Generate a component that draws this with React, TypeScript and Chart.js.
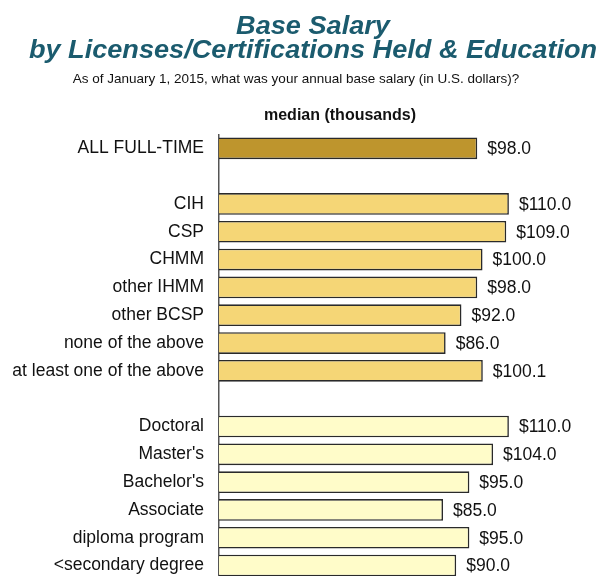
import React, { useEffect, useRef } from "react";
import { Chart, registerables } from "chart.js";

Chart.register(...registerables);

const titleLine1 = "Base Salary";
const titleLine2 = "by Licenses/Certifications Held & Education";
const subtitleText = "As of January 1, 2015, what was your annual base salary (in U.S. dollars)?";
const measureText = "median (thousands)";

const overallLabels = ["ALL FULL-TIME"];
const overallValues = [98.0];

const certLabels = ["CIH", "CSP", "CHMM", "other IHMM", "other BCSP", "none of the above", "at least one of the above"];
const certValues = [110.0, 109.0, 100.0, 98.0, 92.0, 86.0, 100.1];

const eduLabels = ["Doctoral", "Master's", "Bachelor's", "Associate", "diploma program", "<secondary degree"];
const eduValues = [110.0, 104.0, 95.0, 85.0, 95.0, 90.0];

const overallColor = "#BE952D";
const certColor = "#F5D676";
const eduColor = "#FFFCC9";
const titleColor = "#1B5B6E";
const FONT = "'Liberation Sans', Arial, sans-serif";

const labels = [...overallLabels, "", ...certLabels, "", ...eduLabels];
const values: (number | null)[] = [...overallValues, null, ...certValues, null, ...eduValues];
const colors = [
  ...overallLabels.map(() => overallColor),
  "rgba(0,0,0,0)",
  ...certLabels.map(() => certColor),
  "rgba(0,0,0,0)",
  ...eduLabels.map(() => eduColor),
];

const textPlugin = {
  id: "textPlugin",
  afterDraw(chart: any) {
    const ctx = chart.ctx;
    ctx.save();
    ctx.textAlign = "center";
    ctx.textBaseline = "alphabetic";
    ctx.fillStyle = titleColor;
    ctx.font = `italic bold 25px ${FONT}`;
    ctx.save();
    ctx.translate(313, 0);
    ctx.scale(1.085, 1);
    ctx.fillText(titleLine1, 0, 34);
    ctx.fillText(titleLine2, 0, 58);
    ctx.restore();
    ctx.fillStyle = "#111";
    ctx.font = `13.5px ${FONT}`;
    ctx.fillText(subtitleText, 296, 83);
    ctx.font = `bold 16px ${FONT}`;
    ctx.fillText(measureText, 340, 120);

    const meta = chart.getDatasetMeta(0);
    ctx.textAlign = "left";
    ctx.textBaseline = "middle";
    ctx.font = `17.5px ${FONT}`;
    ctx.fillStyle = "#111";
    meta.data.forEach((bar: any, i: number) => {
      const v = values[i];
      if (v === null || v === undefined) return;
      ctx.fillText("$" + v.toFixed(1), bar.x + 10, bar.y + 1);
    });
    ctx.restore();
  },
};

export default function App() {
  const ref = useRef<HTMLCanvasElement | null>(null);
  useEffect(() => {
    if (!ref.current) return;
    const chart = new Chart(ref.current, {
      type: "bar",
      data: {
        labels,
        datasets: [
          {
            data: values,
            backgroundColor: colors,
            borderColor: "#2a2a2a",
            borderWidth: 1.6,
            barPercentage: 0.78,
            categoryPercentage: 1,
          },
        ],
      },
      options: {
        indexAxis: "y",
        animation: false,
        responsive: false,
        maintainAspectRatio: false,
        layout: { padding: { top: 134.4, bottom: 0, left: 0, right: 42.4 } },
        plugins: {
          legend: { display: false },
          title: { display: false },
          tooltip: { enabled: false },
        },
        scales: {
          x: {
            display: false,
            min: 0,
            max: 130,
          },
          y: {
            afterFit: (scale: any) => {
              scale.width = 219;
            },
            grid: { display: true, drawOnChartArea: false, drawTicks: false },
            border: { display: true, color: "#555", width: 1.5 },
            ticks: {
              padding: 15,
              color: "#111",
              font: { family: FONT, size: 17.5 },
              autoSkip: false,
            },
          },
        },
      },
      plugins: [textPlugin],
    });
    return () => chart.destroy();
  }, []);
  return (
    <div style={{ position: "fixed", left: 0, top: 0, width: 604, height: 576, overflow: "hidden", background: "#fff" }}>
      <canvas ref={ref} width={604} height={605} style={{ width: 604, height: 605, display: "block" }} />
    </div>
  );
}
